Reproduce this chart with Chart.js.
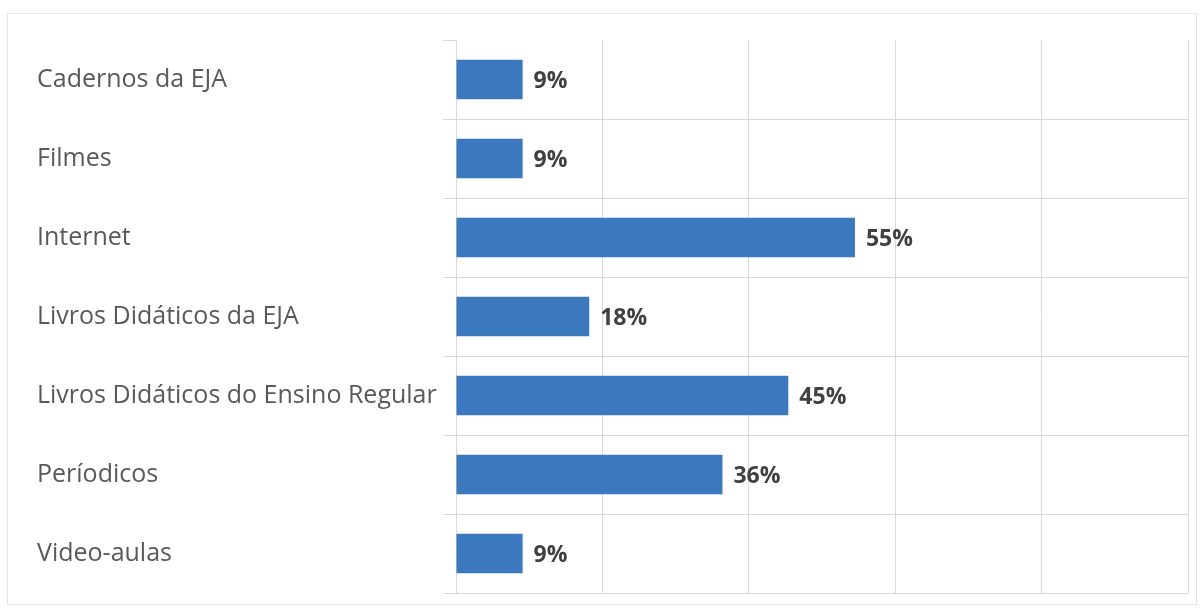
<!DOCTYPE html>
<html>
<head>
<meta charset="utf-8">
<script src="https://cdn.jsdelivr.net/npm/chart.js@4/dist/chart.umd.min.js"></script>
<style>
  body { margin: 0; background: #fff; }
  #frame {
    position: absolute; left: 7px; top: 13px;
    width: 1188px; height: 590px;
    border: 1px solid #e3e3e3;
  }
</style>
</head>
<body>
<div id="frame"><canvas id="myChart"></canvas></div>
<script>
var categories = ["Cadernos da EJA", "Filmes", "Internet", "Livros Didáticos da EJA", "Livros Didáticos do Ensino Regular", "Períodicos", "Video-aulas"];
var percentValues = [9.1, 9.1, 54.5, 18.2, 45.4, 36.4, 9.1];
var xTicks = [0, 20, 40, 60, 80, 100];

var gridColor = "#d9d9d9";

// draws the "9%" style labels next to each bar
var valueLabels = {
  id: "valueLabels",
  afterDatasetsDraw: function (chart) {
    var ctx = chart.ctx;
    var meta = chart.getDatasetMeta(0);
    ctx.save();
    ctx.font = "bold 23px 'Open Sans'";
    ctx.fillStyle = "#404040";
    ctx.textAlign = "left";
    ctx.textBaseline = "middle";
    meta.data.forEach(function (bar, i) {
      ctx.fillText(Math.round(percentValues[i]) + "%", bar.x + 11, bar.y + 2);
    });
    ctx.restore();
  }
};

new Chart("myChart", {
  type: "bar",
  data: {
    labels: categories,
    datasets: [{
      data: percentValues,
      backgroundColor: "#3C78BE",
      barPercentage: 0.5,
      categoryPercentage: 1
    }]
  },
  options: {
    indexAxis: "y",
    responsive: true,
    maintainAspectRatio: false,
    animation: false,
    layout: { padding: { left: 29, right: 8, top: 26, bottom: 11 } },
    plugins: {
      legend: { display: false },
      tooltip: { enabled: false }
    },
    scales: {
      x: {
        min: 0,
        max: 100,
        afterBuildTicks: function (scale) {
          scale.ticks = xTicks.map(function (v) { return { value: v }; });
        },
        ticks: { display: false },
        grid: { color: gridColor, drawTicks: false },
        border: { display: false },
        afterFit: function (scale) { scale.height = 0; }
      },
      y: {
        afterFit: function (scale) {
          scale.width = 419;
          scale.paddingTop = 0;
          scale.paddingBottom = 0;
        },
        ticks: {
          crossAlign: "far",
          color: "#595959",
          font: { family: "'Open Sans'", size: 25 }
        },
        grid: {
          offset: true,
          tickLength: 13,
          tickColor: gridColor,
          color: function (c) { return c.index === 0 ? "rgba(0,0,0,0)" : gridColor; }
        },
        border: { color: gridColor }
      }
    }
  },
  plugins: [valueLabels]
});
</script>
</body>
</html>
